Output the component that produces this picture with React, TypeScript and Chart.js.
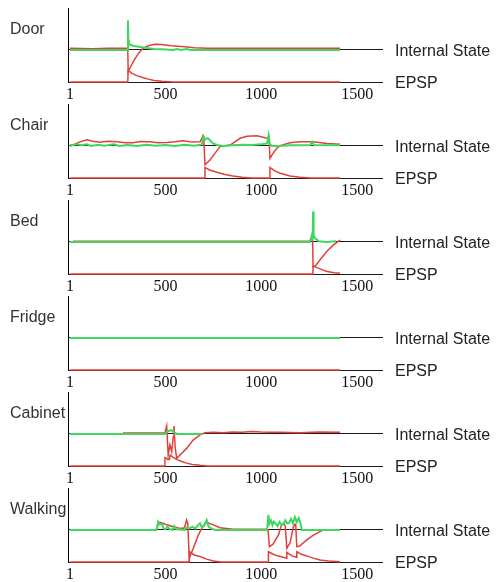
import React, { useEffect, useRef } from 'react';
import { Chart, registerables } from 'chart.js';

Chart.register(...registerables);

type Pt = [number, number];

// ---- axis / label data ----
const xTickValues = [1, 500, 1000, 1500];
const rightLabels: Record<number, string> = { 0: 'EPSP', 1: 'Internal State' };

// ---- Door ----
const doorGreen: Pt[] = [[1, 1.0], [302, 1.0], [304, 1.92], [306, 1.3], [309, 1.18], [330, 1.13], [360, 1.1], [400, 1.06], [440, 1.03], [480, 1.02], [540, 1.0], [560, 1.03], [580, 1.0], [610, 1.03], [630, 1.0], [1411, 1.0]];
const doorState: Pt[] = [[1, 1.05], [120, 1.04], [200, 1.05], [303, 1.05], [305, 0.33], [320, 0.5], [340, 0.72], [360, 0.9], [382, 1.05], [410, 1.13], [445, 1.18], [480, 1.17], [530, 1.13], [600, 1.1], [650, 1.07], [720, 1.05], [1411, 1.05]];
const doorEpsp: Pt[] = [[1, 0], [303, 0], [305, 0.36], [325, 0.27], [350, 0.2], [380, 0.14], [410, 0.09], [440, 0.05], [480, 0.02], [540, 0], [1411, 0]];

// ---- Chair ----
const chairGreen: Pt[] = [[1, 1.0], [20, 1.03], [40, 1.06], [60, 1.02], [90, 1.05], [110, 1.0], [150, 1.04], [180, 1.01], [230, 1.05], [260, 1.0], [300, 1.03], [350, 1.0], [400, 1.04], [450, 1.01], [500, 1.03], [550, 1.0], [600, 1.04], [650, 1.01], [690, 1.05], [696, 1.29], [705, 1.2], [720, 1.25], [748, 1.08], [770, 1.03], [800, 1.0], [850, 1.02], [900, 1.04], [950, 1.03], [1000, 1.05], [1030, 1.08], [1038, 1.34], [1045, 1.05], [1055, 1.0], [1100, 1.0], [1150, 1.02], [1200, 1.02], [1255, 1.03], [1265, 1.13], [1275, 1.03], [1411, 1.02]];
const chairState: Pt[] = [[1, 1.02], [20, 1.04], [50, 1.12], [90, 1.19], [120, 1.15], [158, 1.12], [200, 1.15], [246, 1.13], [290, 1.1], [330, 1.1], [370, 1.14], [419, 1.13], [460, 1.1], [508, 1.11], [550, 1.13], [591, 1.16], [640, 1.12], [680, 1.13], [696, 1.32], [700, 1.2], [706, 0.41], [732, 0.56], [758, 0.77], [784, 0.98], [837, 1.03], [860, 1.12], [889, 1.24], [925, 1.3], [977, 1.32], [1030, 1.24], [1040, 1.29], [1045, 0.61], [1061, 0.77], [1080, 0.92], [1098, 1.01], [1150, 1.1], [1202, 1.13], [1270, 1.13], [1343, 1.08], [1411, 1.05]];
const chairEpsp: Pt[] = [[1, 0], [705, 0], [706, 0.33], [730, 0.25], [768, 0.18], [810, 0.11], [852, 0.06], [900, 0.02], [950, 0], [1044, 0], [1045, 0.33], [1070, 0.22], [1098, 0.15], [1150, 0.06], [1202, 0.02], [1260, 0], [1411, 0]];

// ---- Bed ----
const bedGreen: Pt[] = [[1, 1.0], [1254, 1.0], [1264, 1.22], [1268, 1.05], [1270, 1.95], [1273, 1.2], [1280, 1.12], [1300, 1.02], [1340, 1.0], [1390, 1.02]];
const bedState: Pt[] = [[17, 1.02], [1250, 1.02], [1262, 1.12], [1268, 1.02], [1270, 0.23], [1282, 0.25], [1306, 0.44], [1341, 0.7], [1376, 0.91], [1411, 1.06]];
const bedEpsp: Pt[] = [[1, 0], [1269, 0], [1270, 0.25], [1290, 0.2], [1320, 0.13], [1343, 0.08], [1380, 0.04], [1411, 0.02]];

// ---- Fridge ----
const fridgeGreen: Pt[] = [[1, 1.0], [1411, 1.0]];
const fridgeState: Pt[] = [[1, 1.0], [1411, 1.0]];
const fridgeEpsp: Pt[] = [[1, 0], [1411, 0]];

// ---- Cabinet ----
const cabinetGreen: Pt[] = [[1, 1.0], [497, 1.0], [505, 1.06], [520, 1.1], [530, 1.12], [545, 1.05], [560, 1.0], [690, 1.0]];
const cabinetState: Pt[] = [[278, 1.03], [497, 1.04], [506, 1.25], [514, 0.34], [523, 0.66], [532, 0.45], [540, 0.9], [544, 1.25], [550, 0.6], [558, 0.24], [585, 0.4], [610, 0.55], [644, 0.81], [680, 0.97], [706, 1.04], [750, 1.05], [800, 1.04], [850, 1.06], [900, 1.05], [950, 1.08], [1000, 1.06], [1050, 1.05], [1100, 1.05], [1200, 1.04], [1300, 1.06], [1411, 1.05]];
const cabinetEpsp: Pt[] = [[1, 0], [496, 0], [497, 0.26], [510, 0.22], [520, 0.2], [524, 0.34], [540, 0.27], [560, 0.2], [585, 0.14], [610, 0.09], [640, 0.05], [680, 0.02], [720, 0], [1411, 0]];

// ---- Walking ----
const walkingGreen: Pt[] = [[1, 1.0], [450, 1.0], [455, 1.05], [461, 1.26], [470, 1.18], [480, 1.2], [490, 1.05], [500, 1.02], [510, 1.1], [520, 1.03], [535, 1.0], [545, 1.12], [555, 1.02], [600, 1.0], [610, 1.08], [625, 1.05], [640, 1.1], [655, 1.04], [670, 1.15], [680, 1.21], [690, 1.08], [700, 1.12], [715, 1.31], [725, 1.1], [740, 1.04], [760, 1.0], [1030, 1.0], [1037, 1.47], [1042, 1.2], [1050, 1.3], [1058, 1.15], [1065, 1.26], [1075, 1.2], [1085, 1.12], [1095, 1.25], [1105, 1.15], [1115, 1.18], [1125, 1.3], [1135, 1.2], [1145, 1.22], [1155, 1.35], [1165, 1.2], [1175, 1.4], [1185, 1.25], [1195, 1.37], [1205, 1.2], [1212, 1.0], [1411, 1.0]];
const walkingState: Pt[] = [[454, 1.0], [462, 1.2], [471, 1.24], [490, 1.2], [506, 1.16], [541, 1.1], [575, 1.05], [595, 1.05], [603, 1.15], [610, 1.31], [616, 1.2], [624, 0.12], [645, 0.43], [671, 0.84], [689, 1.05], [700, 1.15], [715, 1.24], [749, 1.16], [784, 1.07], [854, 1.02], [1028, 1.02], [1035, 1.0], [1042, 0.48], [1060, 0.55], [1089, 0.84], [1106, 1.16], [1118, 1.2], [1125, 1.12], [1133, 0.43], [1150, 0.6], [1167, 1.1], [1176, 1.18], [1180, 1.1], [1185, 0.48], [1200, 0.5], [1237, 0.69], [1272, 0.84], [1306, 0.95], [1315, 0.97]];
const walkingEpsp: Pt[] = [[1, 0], [623, 0], [624, 0.32], [650, 0.22], [680, 0.17], [715, 0.09], [749, 0.03], [790, 0], [1036, 0], [1037, 0.32], [1060, 0.25], [1080, 0.2], [1132, 0.12], [1133, 0.3], [1160, 0.19], [1184, 0.15], [1185, 0.32], [1210, 0.24], [1237, 0.19], [1270, 0.12], [1306, 0.06], [1350, 0.03], [1411, 0.01]];

const panels = [
  { name: 'Door', green: doorGreen, state: doorState, epsp: doorEpsp },
  { name: 'Chair', green: chairGreen, state: chairState, epsp: chairEpsp },
  { name: 'Bed', green: bedGreen, state: bedState, epsp: bedEpsp },
  { name: 'Fridge', green: fridgeGreen, state: fridgeState, epsp: fridgeEpsp },
  { name: 'Cabinet', green: cabinetGreen, state: cabinetState, epsp: cabinetEpsp },
  { name: 'Walking', green: walkingGreen, state: walkingState, epsp: walkingEpsp },
];

const GREEN = '#3ed85e';
const RED = '#e0403a';
const PANEL_STEP = 96;
const CANVAS_H = 104;
const Y_MAX = 2.31;

const toXY = (pts: Pt[]) => pts.map(([x, y]) => ({ x, y }));

const noPad = (s: any) => {
  s.paddingTop = 0;
  s.paddingBottom = 0;
  s.paddingLeft = 0;
  s.paddingRight = 0;
};

function Panel({ index }: { index: number }) {
  const ref = useRef<HTMLCanvasElement>(null);
  useEffect(() => {
    const p = panels[index];
    const line = (data: Pt[], color: string, width: number, order: number) => ({
      data: toXY(data),
      borderColor: color,
      backgroundColor: color,
      borderWidth: width,
      pointRadius: 0,
      tension: 0,
      fill: false,
      order,
      clip: 4,
    });
    const chart = new Chart(ref.current!, {
      type: 'line',
      data: {
        datasets: [
          line(p.epsp, RED, 1.5, 2),
          line(p.state, RED, 1.5, 1),
          line(p.green, GREEN, 2, 0),
        ],
      },
      options: {
        responsive: false,
        animation: false,
        devicePixelRatio: 1,
        layout: { padding: { top: 8, left: 10, right: 0, bottom: 0 } },
        plugins: { legend: { display: false }, tooltip: { enabled: false }, title: { display: false } },
        scales: {
          x: {
            type: 'linear',
            min: -9,
            max: 1635,
            afterBuildTicks: (s: any) => {
              s.ticks = xTickValues.map((v) => ({ value: v }));
            },
            afterFit: (s: any) => {
              s.height = CANVAS_H - 82;
              noPad(s);
            },
            ticks: {
              autoSkip: false,
              maxRotation: 0,
              padding: -5,
              color: '#111',
              font: { family: '"Liberation Serif", "Times New Roman", serif', size: 16 },
              callback: (v: any) => String(v),
            },
            grid: { display: false },
            border: { display: false },
          },
          y: {
            type: 'linear',
            position: 'left',
            min: 0,
            max: Y_MAX,
            afterBuildTicks: (s: any) => {
              s.ticks = [{ value: 1.69 }];
            },
            afterFit: (s: any) => {
              s.width = 58;
              noPad(s);
            },
            ticks: {
              crossAlign: 'far',
              padding: 0,
              labelOffset: 2,
              color: '#333',
              font: { family: '"Liberation Sans", Arial, sans-serif', size: 16 },
              callback: () => p.name,
            },
            grid: { display: false },
            border: { display: true, color: '#000', width: 1 },
          },
          y2: {
            type: 'linear',
            position: 'right',
            min: 0,
            max: Y_MAX,
            afterBuildTicks: (s: any) => {
              s.ticks = [{ value: 0 }, { value: 1 }];
            },
            afterFit: (s: any) => {
              s.width = 113;
              noPad(s);
            },
            ticks: {
              padding: 12,
              labelOffset: 2,
              color: '#222',
              font: { family: '"Liberation Sans", Arial, sans-serif', size: 16 },
              callback: (v: any) => rightLabels[v as number] ?? '',
            },
            grid: { display: true, color: '#1a1a1a', lineWidth: 1, drawTicks: false, drawOnChartArea: true },
            border: { display: false },
          },
        },
      },
    } as any);
    return () => chart.destroy();
  }, [index]);
  return (
    <canvas
      ref={ref}
      width={496}
      height={CANVAS_H}
      style={{ position: 'absolute', left: 0, top: index * PANEL_STEP, width: 496, height: CANVAS_H }}
    />
  );
}

export default function App() {
  return (
    <div style={{ position: 'absolute', left: 0, top: 0, width: 496, height: 582, overflow: 'hidden', background: '#fff' }}>
      {panels.map((_, i) => (
        <Panel key={i} index={i} />
      ))}
    </div>
  );
}
